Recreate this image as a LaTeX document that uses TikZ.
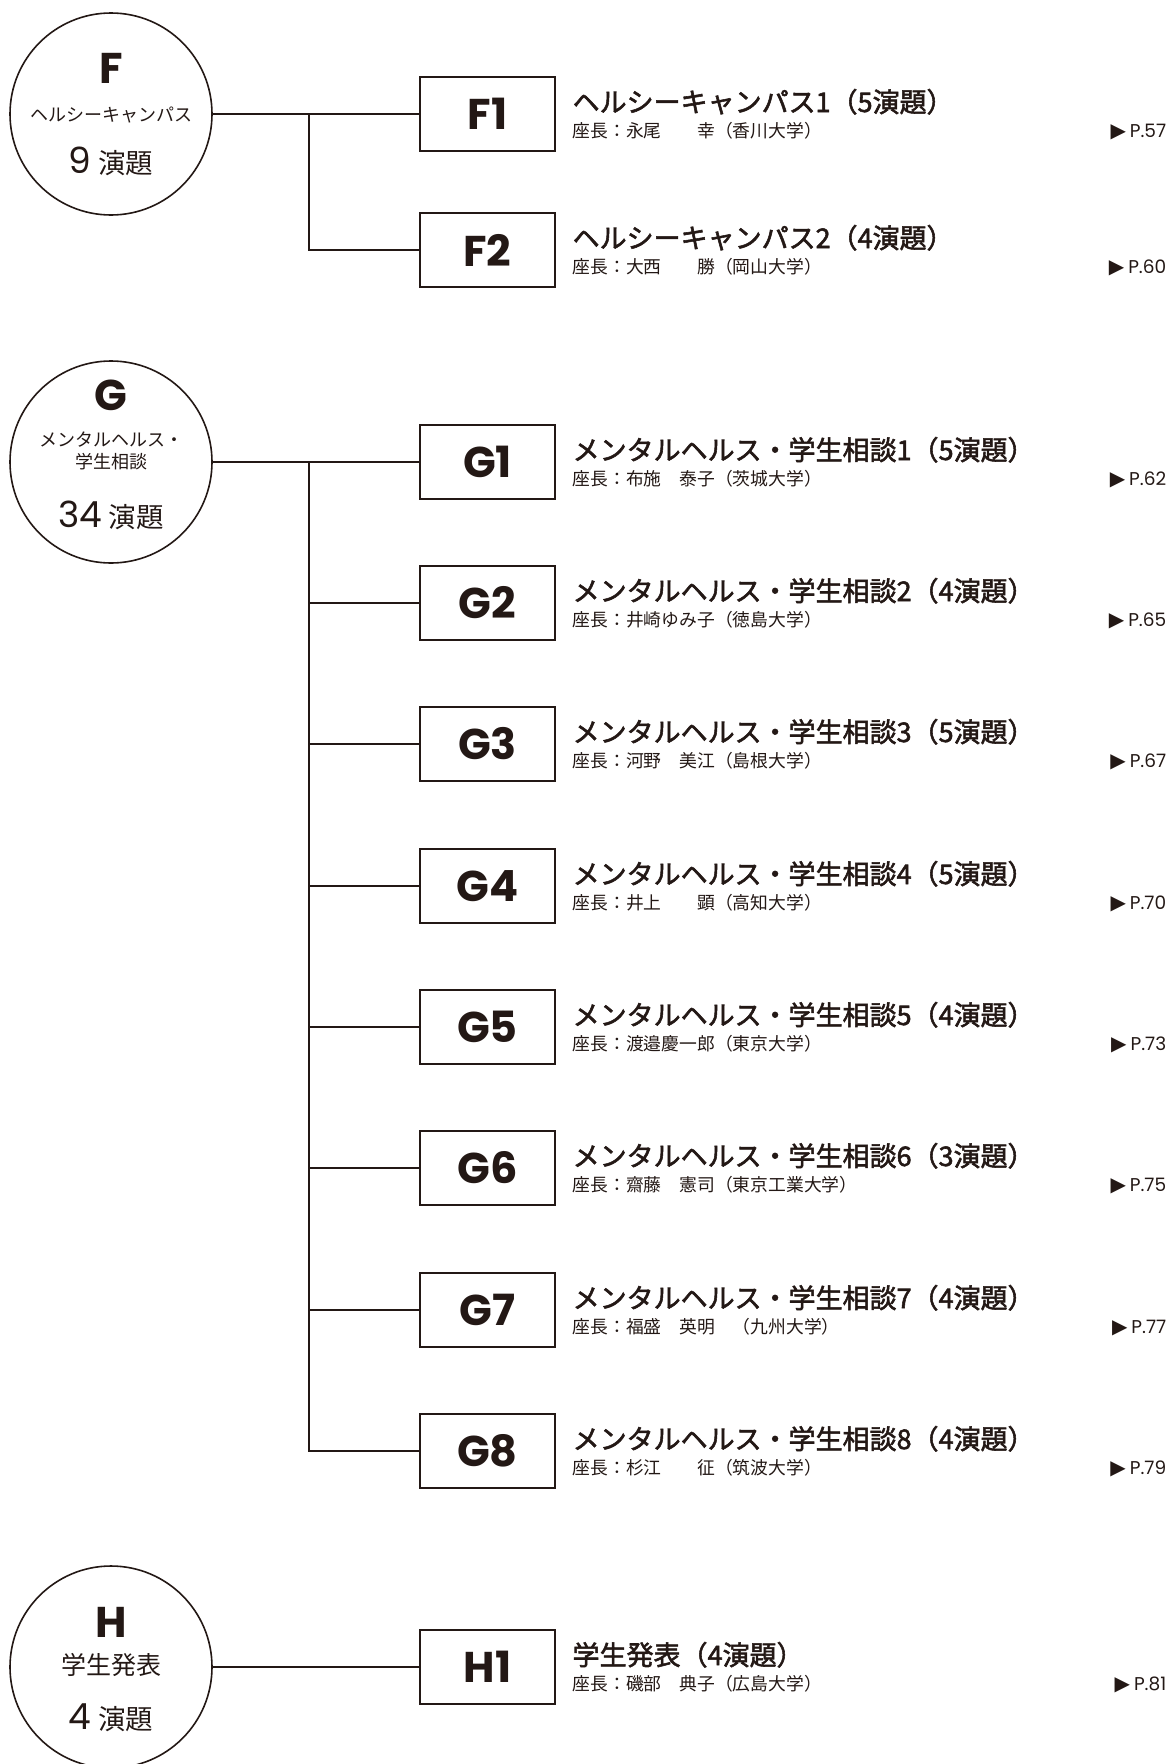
\documentclass[tikz,border=0pt]{standalone}
\usepackage{fontspec}
\setmainfont{Noto Sans CJK JP}
\newfontfamily\jpmed[FakeBold=2]{Noto Sans CJK JP}
\newfontfamily\poppins{Poppins}
\newfontfamily\dejavu{DejaVu Sans}
\usetikzlibrary{positioning}
\definecolor{ink}{RGB}{35,24,21}
\newcommand{\bignum}[1]{{\poppins\fontsize{36}{36}\selectfont #1}\hspace{7pt}}
\newcommand{\tri}{{\dejavu\fontsize{20}{20}\selectfont ▶}\hspace{4pt}}

\begin{document}
\begin{tikzpicture}[x=1pt,y=-1pt,line width=1.6pt,color=ink]
\tikzstyle{group}=[draw,circle,minimum size=202,inner sep=0pt]
\tikzstyle{letter}=[inner sep=0pt,font=\poppins\bfseries\fontsize{43}{43}\selectfont]
\tikzstyle{gname}=[inner sep=0pt,font=\fontsize{18}{18}\selectfont]
\tikzstyle{count}=[inner sep=0pt,font=\fontsize{27.5}{27.5}\selectfont]
\tikzstyle{session}=[draw,rectangle,minimum width=135,minimum height=74,inner sep=0pt,font=\poppins\bfseries\fontsize{43}{43}\selectfont]
\tikzstyle{title}=[anchor=base west,inner sep=0pt,font=\jpmed\fontsize{27}{27}\selectfont]
\tikzstyle{chair}=[anchor=base west,inner sep=0pt,font=\fontsize{17.8}{17.8}\selectfont]
\tikzstyle{page}=[anchor=base east,inner sep=0pt,font=\poppins\fontsize{18.5}{18.5}\selectfont]
\useasboundingbox (0,0) rectangle (1170,1764);
\coordinate (R) at (1167,0);

% groups
\node [group] (F) at (111,114) {};
\node [letter,yshift=45.5] (Fl) at (F) {F};
\node [gname,yshift=-1] (Fn) at (F) {ヘルシーキャンパス};
\node [count,yshift=-47] (Fc) at (F) {\bignum{9}演題};

\node [group] (G) at (111,462) {};
\node [letter,yshift=67] (Gl) at (G) {G};
\node [gname,yshift=22] (Gn) at (G) {メンタルヘルス・};
\node [gname] (Gm) at (G) {学生相談};
\node [count,yshift=-53] (Gc) at (G) {\bignum{34}演題};

\node [group] (H) at (111,1667) {};
\node [letter,yshift=45] (Hl) at (H) {H};
\node [gname,yshift=2,font=\fontsize{25}{25}\selectfont] (Hn) at (H) {学生発表};
\node [count,yshift=-51] (Hc) at (H) {\bignum{4}演題};

% sessions
\foreach \s/\yy/\ttl/\ch/\pg in {
  F1/114/ヘルシーキャンパス1（5演題）/永尾　　幸（香川大学）/57,
  F2/250/ヘルシーキャンパス2（4演題）/大西　　勝（岡山大学）/60,
  G1/462/メンタルヘルス・学生相談1（5演題）/布施　泰子（茨城大学）/62,
  G2/603/メンタルヘルス・学生相談2（4演題）/井崎ゆみ子（徳島大学）/65,
  G3/744/メンタルヘルス・学生相談3（5演題）/河野　美江（島根大学）/67,
  G4/886/メンタルヘルス・学生相談4（5演題）/井上　　顕（高知大学）/70,
  G5/1027/メンタルヘルス・学生相談5（4演題）/渡邉慶一郎（東京大学）/73,
  G6/1168/メンタルヘルス・学生相談6（3演題）/齋藤　憲司（東京工業大学）/75,
  G7/1310/メンタルヘルス・学生相談7（4演題）/福盛　英明　（九州大学）/77,
  G8/1451/メンタルヘルス・学生相談8（4演題）/杉江　　征（筑波大学）/79,
  H1/1667/学生発表（4演題）/磯部　典子（広島大学）/81}
{
  \node [session] (\s) at (487.5,\yy) {\s};
  \node [title,xshift=16,yshift=2] (\s t) at (\s.east) {\ttl};
  \node [chair,xshift=16,yshift=-23.7] (\s c) at (\s.east) {座長：\ch};
  \node [page,yshift=-23.7] (\s p) at (\s.east -| R) {\tri P.\pg};
}

% connectors
\coordinate (Fj) at (309,114);
\coordinate (Gj) at (309,462);
\draw (F) -- (F1);
\draw (Fj) |- (F2);
\draw (G) -- (G1);
\foreach \i in {2,...,8}
  \draw (Gj) |- (G\i);
\draw (H) -- (H1);
\end{tikzpicture}
\end{document}
